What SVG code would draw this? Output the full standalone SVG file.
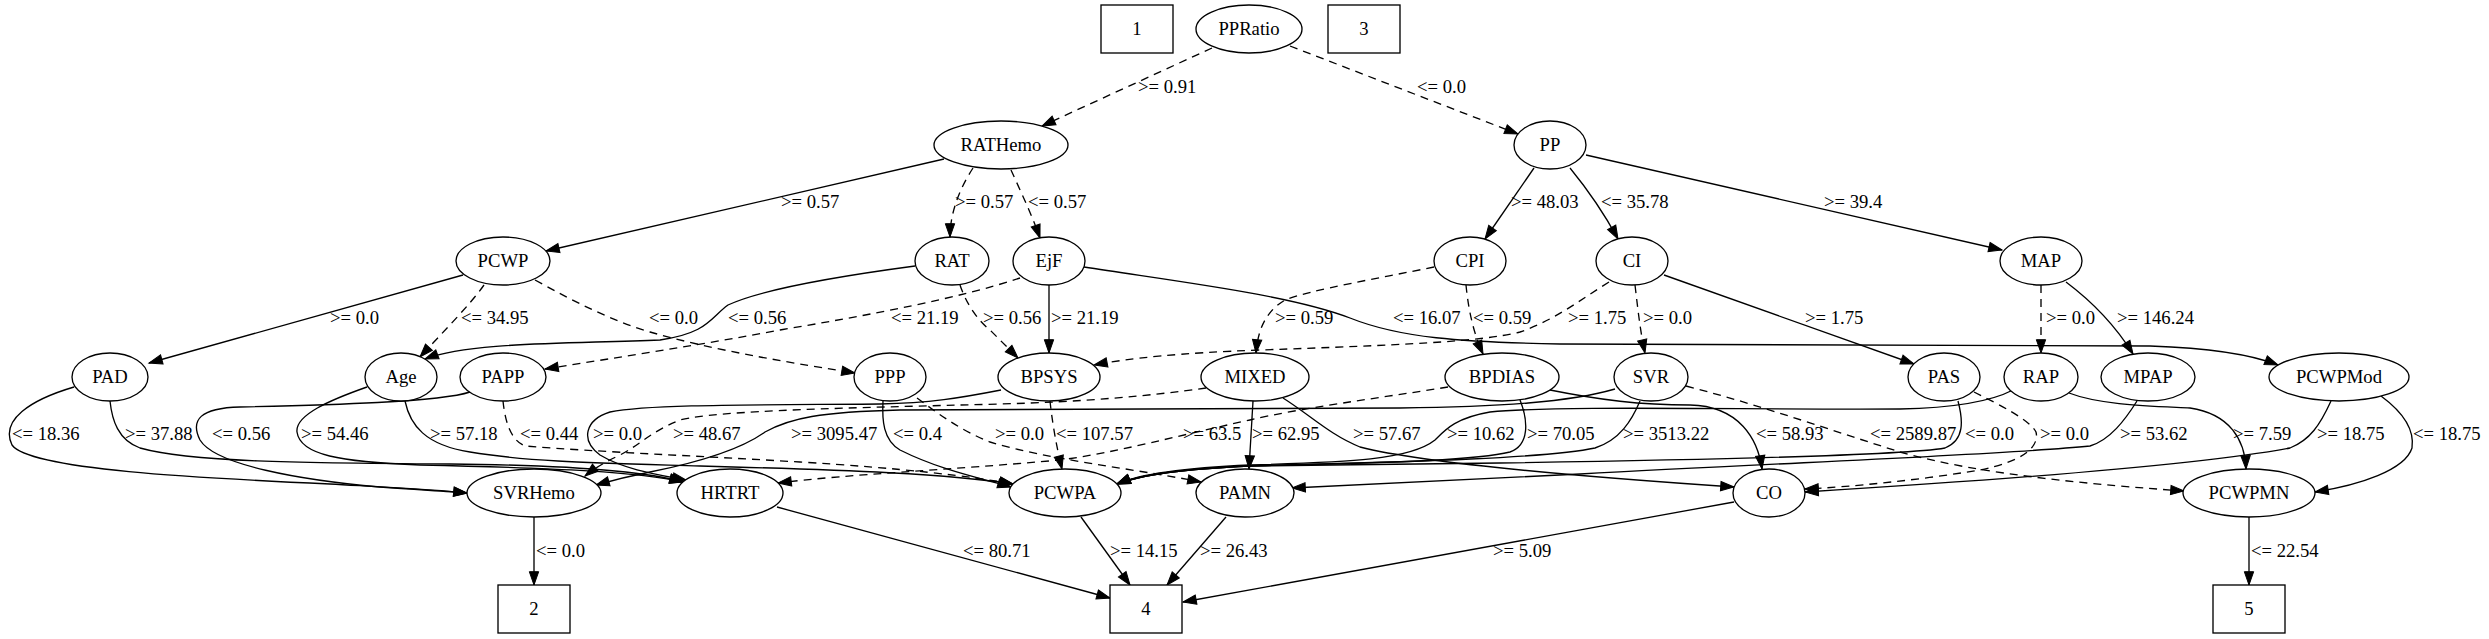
<svg xmlns="http://www.w3.org/2000/svg" width="2489" height="639" viewBox="0 0 2489 639">
<defs>
<style>
.n ellipse,.n rect{fill:#fff;stroke:#000;stroke-width:1.33}
.n text{font-family:"Liberation Serif","Times New Roman",serif;font-size:18.67px;text-anchor:middle;fill:#000}
.e path{fill:none;stroke:#000;stroke-width:1.33;marker-end:url(#ah)}
.e path.d{stroke-dasharray:8,6}
.e text{font-family:"Liberation Serif","Times New Roman",serif;font-size:18.67px;fill:#000}
</style>
<marker id="ah" markerUnits="userSpaceOnUse" markerWidth="15" markerHeight="11" refX="13.3" refY="4.67" orient="auto" overflow="visible">
<path d="M0,0 L13.3,4.67 L0,9.33 z" fill="#000" stroke="#000" stroke-width="1"/>
</marker>
</defs>
<rect width="2489" height="639" fill="#fff"/>
<g id="connectors" class="e">
<path class="d" d="M1212,48 L1042,126"/><text x="1138" y="93">&gt;= 0.91</text>
<path class="d" d="M1290,46 L1518,134"/><text x="1417" y="93">&lt;= 0.0</text>
<path d="M944,159 L546,251"/><text x="781" y="208">&gt;= 0.57</text>
<path class="d" d="M973,168 C962,185 950,210 950,237"/><text x="955" y="208">&gt;= 0.57</text>
<path class="d" d="M1011,170 C1020,190 1032,215 1040,238"/><text x="1028" y="208">&lt;= 0.57</text>
<path d="M1534,168 L1485,239"/><text x="1511" y="208">&gt;= 48.03</text>
<path d="M1570,168 C1588,190 1605,215 1618,239"/><text x="1601" y="208">&lt;= 35.78</text>
<path d="M1586,155 L2002,250"/><text x="1824" y="208">&gt;= 39.4</text>
<path d="M463,275 L149,363"/><text x="330" y="324">&gt;= 0.0</text>
<path class="d" d="M484,285 C470,305 440,335 420,357"/><text x="461" y="324">&lt;= 34.95</text>
<path class="d" d="M535,280 C575,302 610,320 650,332 C720,352 800,364 855,373"/><text x="649" y="324">&lt;= 0.0</text>
<path d="M915,266 C840,276 760,290 728,305 C710,318 708,333 660,340 C560,344 470,342 425,359"/><text x="728" y="324">&lt;= 0.56</text>
<path class="d" d="M960,285 C965,300 975,318 990,330 C1000,340 1010,350 1018,358"/><text x="983" y="324">&gt;= 0.56</text>
<path class="d" d="M1020,278 C960,298 870,315 780,330 C700,345 620,357 545,369"/><text x="891" y="324">&lt;= 21.19</text>
<path d="M1049,285 L1049,353"/><text x="1051" y="324">&gt;= 21.19</text>
<path d="M1084,267 C1180,282 1290,295 1350,318 C1400,338 1460,342 1560,344 L2150,346 C2210,348 2250,354 2278,365"/><text x="1393" y="324">&lt;= 16.07</text>
<path class="d" d="M1434,267 C1380,278 1310,290 1285,300 C1265,312 1258,330 1256,353"/><text x="1275" y="324">&gt;= 0.59</text>
<path class="d" d="M1466,285 C1468,305 1472,330 1483,354"/><text x="1473" y="324">&lt;= 0.59</text>
<path class="d" d="M1609,282 C1580,300 1555,320 1520,332 C1480,342 1400,345 1260,350 C1180,353 1130,358 1094,365"/><text x="1568" y="324">&gt;= 1.75</text>
<path class="d" d="M1635,285 C1638,310 1640,330 1645,353"/><text x="1643" y="324">&gt;= 0.0</text>
<path d="M1664,275 L1914,364"/><text x="1805" y="324">&gt;= 1.75</text>
<path class="d" d="M2041,285 L2041,353"/><text x="2046" y="324">&gt;= 0.0</text>
<path d="M2066,282 C2090,300 2115,325 2133,354"/><text x="2117" y="324">&gt;= 146.24</text>
<path d="M74,387 C30,400 0,420 12,445 C30,470 200,478 330,484 C400,488 440,490 467,493"/><text x="12" y="440">&lt;= 18.36</text>
<path d="M110,401 C112,420 118,440 140,448 C190,462 300,463 450,464 C560,465 640,470 683,482"/><text x="125" y="440">&gt;= 37.88</text>
<path d="M470,392 C440,402 330,405 240,407 C200,408 190,420 200,440 C215,465 300,480 380,487 C420,490 445,491 467,493"/><text x="212" y="440">&lt;= 0.56</text>
<path d="M367,387 C330,400 295,415 297,432 C300,455 340,462 420,465 C560,468 640,472 683,482"/><text x="301" y="440">&gt;= 54.46</text>
<path d="M405,401 C410,425 425,445 470,452 C530,462 600,463 700,466 C850,470 950,474 1013,484"/><text x="430" y="440">&gt;= 57.18</text>
<path class="d" d="M503,401 C505,420 510,440 525,446 C600,452 700,456 800,462 C900,468 970,476 1013,484"/><text x="520" y="440">&lt;= 0.44</text>
<path d="M1001,390 C960,398 930,403 880,404 C760,405 650,404 610,412 C585,420 580,440 600,455 C625,470 660,475 686,480"/><text x="593" y="440">&gt;= 0.0</text>
<path class="d" d="M1206,388 C1150,396 1080,402 1000,404 C850,408 720,410 680,420 C650,432 640,445 620,455 C605,462 595,468 585,476"/><text x="673" y="440">&gt;= 48.67</text>
<path d="M1615,389 C1570,402 1500,407 1400,408 L900,410 C820,412 790,418 765,432 C740,450 700,462 650,472 C625,477 610,481 596,485"/><text x="791" y="440">&gt;= 3095.47</text>
<path d="M883,401 C882,420 883,440 900,450 C940,470 980,478 1011,487"/><text x="893" y="440">&lt;= 0.4</text>
<path class="d" d="M917,398 C940,415 960,430 990,442 C1050,460 1130,468 1201,482"/><text x="995" y="440">&gt;= 0.0</text>
<path class="d" d="M1050,401 C1052,420 1056,445 1062,469"/><text x="1056" y="440">&lt;= 107.57</text>
<path class="d" d="M1448,387 C1380,398 1300,408 1250,420 C1180,435 1120,452 1060,460 C950,470 850,474 778,483"/><text x="1183" y="440">&gt;= 63.5</text>
<path d="M1253,401 L1249,469"/><text x="1252" y="440">&gt;= 62.95</text>
<path d="M1283,398 C1310,415 1330,435 1360,447 C1430,465 1600,478 1734,487"/><text x="1353" y="440">&gt;= 57.67</text>
<path d="M2013,390 C1990,402 1950,408 1900,409 C1750,410 1560,405 1490,412 C1455,418 1445,430 1435,440 C1410,460 1350,462 1250,465 C1180,468 1140,474 1117,484"/><text x="1447" y="440">&gt;= 10.62</text>
<path d="M1520,400 C1528,420 1530,445 1510,452 C1470,462 1350,463 1250,466 C1180,469 1140,475 1117,484"/><text x="1527" y="440">&gt;= 70.05</text>
<path d="M1550,390 C1600,400 1640,405 1690,405 C1740,406 1758,440 1762,469"/><text x="1756" y="440">&lt;= 58.93</text>
<path d="M1640,401 C1632,420 1620,440 1595,448 C1540,460 1350,463 1250,466 C1180,469 1140,475 1117,484"/><text x="1623" y="440">&gt;= 3513.22</text>
<path class="d" d="M1686,386 C1760,405 1830,430 1900,452 C1980,475 2100,485 2184,491"/><text x="1870" y="440">&lt;= 2589.87</text>
<path d="M1958,401 C1963,420 1965,440 1945,448 C1900,456 1700,460 1500,463 L1250,466 C1180,469 1140,475 1117,484"/><text x="1965" y="440">&lt;= 0.0</text>
<path class="d" d="M1974,392 C2000,405 2030,420 2036,432 C2040,448 2020,462 1980,470 C1920,480 1850,487 1805,489"/><text x="2040" y="440">&gt;= 0.0</text>
<path d="M2137,401 C2125,420 2110,440 2090,446 C2000,455 1800,462 1580,474 C1450,480 1350,485 1292,488"/><text x="2120" y="440">&gt;= 53.62</text>
<path d="M2069,393 C2100,405 2150,406 2190,408 C2230,414 2245,440 2246,469"/><text x="2233" y="440">&gt;= 7.59</text>
<path d="M2331,401 C2320,425 2310,440 2290,448 C2200,465 2000,480 1805,492"/><text x="2317" y="440">&gt;= 18.75</text>
<path d="M2381,396 C2400,410 2415,428 2412,448 C2405,470 2360,485 2315,492"/><text x="2413" y="440">&lt;= 18.75</text>
<path d="M534,517 L534,585"/><text x="536" y="557">&lt;= 0.0</text>
<path d="M777,507 L1110,598"/><text x="963" y="557">&lt;= 80.71</text>
<path d="M1081,517 L1130,585"/><text x="1110" y="557">&gt;= 14.15</text>
<path d="M1226,517 L1167,585"/><text x="1200" y="557">&gt;= 26.43</text>
<path d="M1734,502 L1183,602"/><text x="1493" y="557">&gt;= 5.09</text>
<path d="M2249,517 L2249,585"/><text x="2251" y="557">&lt;= 22.54</text>
</g>
<g class="n">
<g id="n1"><rect x="1101" y="5" width="72" height="48"/><text x="1137" y="35">1</text></g>
<g id="PPRatio"><ellipse cx="1249" cy="29" rx="53" ry="24"/><text x="1249" y="35">PPRatio</text></g>
<g id="n3"><rect x="1328" y="5" width="72" height="48"/><text x="1364" y="35">3</text></g>
<g id="RATHemo"><ellipse cx="1001" cy="145" rx="67" ry="24"/><text x="1001" y="151">RATHemo</text></g>
<g id="PP"><ellipse cx="1550" cy="145" rx="36" ry="24"/><text x="1550" y="151">PP</text></g>
<g id="PCWP"><ellipse cx="503" cy="261" rx="47" ry="24"/><text x="503" y="267">PCWP</text></g>
<g id="RAT"><ellipse cx="952" cy="261" rx="37" ry="24"/><text x="952" y="267">RAT</text></g>
<g id="EjF"><ellipse cx="1049" cy="261" rx="36" ry="24"/><text x="1049" y="267">EjF</text></g>
<g id="CPI"><ellipse cx="1470" cy="261" rx="36" ry="24"/><text x="1470" y="267">CPI</text></g>
<g id="CI"><ellipse cx="1632" cy="261" rx="36" ry="24"/><text x="1632" y="267">CI</text></g>
<g id="MAP"><ellipse cx="2041" cy="261" rx="41" ry="24"/><text x="2041" y="267">MAP</text></g>
<g id="PAD"><ellipse cx="110" cy="377" rx="38" ry="24"/><text x="110" y="383">PAD</text></g>
<g id="Age"><ellipse cx="401" cy="377" rx="36" ry="24"/><text x="401" y="383">Age</text></g>
<g id="PAPP"><ellipse cx="503" cy="377" rx="43" ry="24"/><text x="503" y="383">PAPP</text></g>
<g id="PPP"><ellipse cx="890" cy="377" rx="36" ry="24"/><text x="890" y="383">PPP</text></g>
<g id="BPSYS"><ellipse cx="1049" cy="377" rx="51" ry="24"/><text x="1049" y="383">BPSYS</text></g>
<g id="MIXED"><ellipse cx="1255" cy="377" rx="54" ry="24"/><text x="1255" y="383">MIXED</text></g>
<g id="BPDIAS"><ellipse cx="1502" cy="377" rx="57" ry="24"/><text x="1502" y="383">BPDIAS</text></g>
<g id="SVR"><ellipse cx="1651" cy="377" rx="37" ry="24"/><text x="1651" y="383">SVR</text></g>
<g id="PAS"><ellipse cx="1944" cy="377" rx="36" ry="24"/><text x="1944" y="383">PAS</text></g>
<g id="RAP"><ellipse cx="2041" cy="377" rx="37" ry="24"/><text x="2041" y="383">RAP</text></g>
<g id="MPAP"><ellipse cx="2148" cy="377" rx="47" ry="24"/><text x="2148" y="383">MPAP</text></g>
<g id="PCWPMod"><ellipse cx="2339" cy="377" rx="70" ry="24"/><text x="2339" y="383">PCWPMod</text></g>
<g id="SVRHemo"><ellipse cx="534" cy="493" rx="67" ry="24"/><text x="534" y="499">SVRHemo</text></g>
<g id="HRTRT"><ellipse cx="730" cy="493" rx="53" ry="24"/><text x="730" y="499">HRTRT</text></g>
<g id="PCWPA"><ellipse cx="1065" cy="493" rx="56" ry="24"/><text x="1065" y="499">PCWPA</text></g>
<g id="PAMN"><ellipse cx="1245" cy="493" rx="49" ry="24"/><text x="1245" y="499">PAMN</text></g>
<g id="CO"><ellipse cx="1769" cy="493" rx="36" ry="24"/><text x="1769" y="499">CO</text></g>
<g id="PCWPMN"><ellipse cx="2249" cy="493" rx="66" ry="24"/><text x="2249" y="499">PCWPMN</text></g>
<g id="n2"><rect x="498" y="585" width="72" height="48"/><text x="534" y="615">2</text></g>
<g id="n4"><rect x="1110" y="585" width="72" height="48"/><text x="1146" y="615">4</text></g>
<g id="n5"><rect x="2213" y="585" width="72" height="48"/><text x="2249" y="615">5</text></g>
</g>
</svg>
